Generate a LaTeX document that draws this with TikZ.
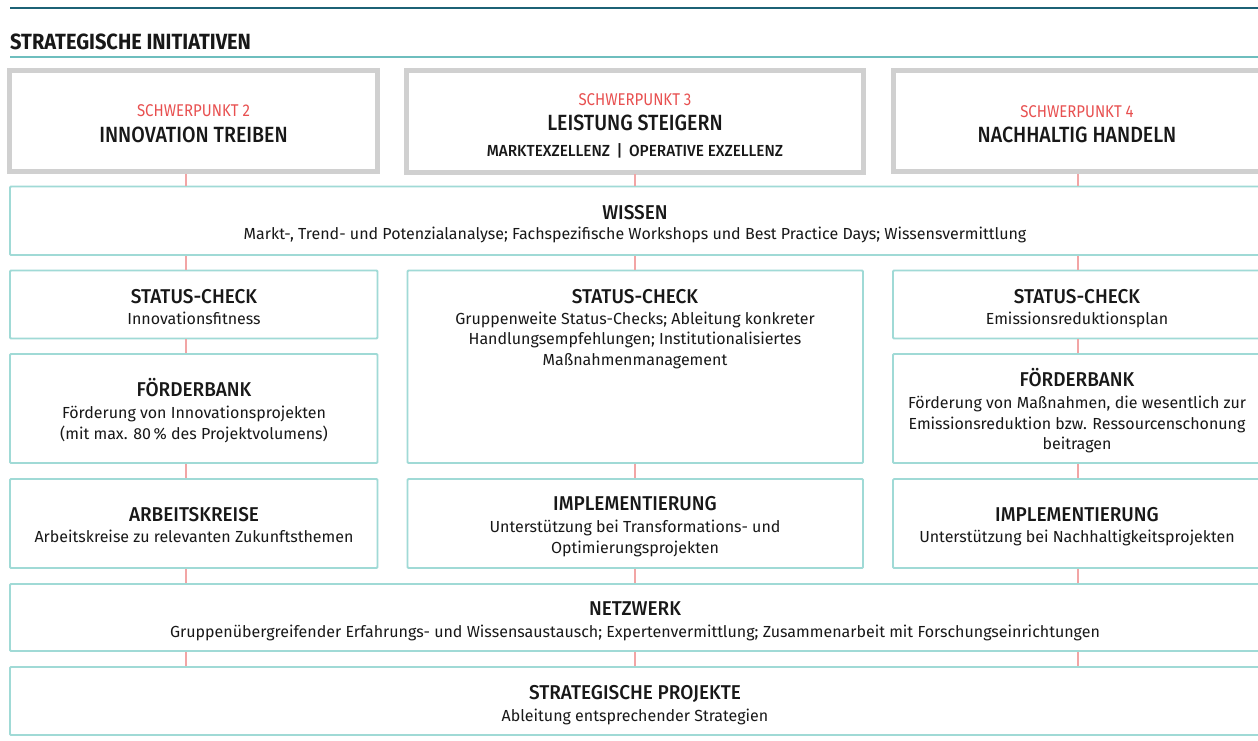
\documentclass[tikz,border=0pt]{standalone}
\usepackage{fontspec}
\setmainfont{Fira Sans}
\newfontfamily\hdfont[FakeStretch=0.95]{Fira Sans Medium}
\newfontfamily\btfont[FakeStretch=0.89]{Fira Sans Medium}
\newfontfamily\subfont[FakeStretch=0.96]{Fira Sans Medium}
\newfontfamily\rdfont[FakeStretch=0.88]{Fira Sans}
\newfontfamily\boldfont[FakeStretch=0.91]{Fira Sans Bold}
\usetikzlibrary{fit}
\definecolor{darkteal}{RGB}{28,98,118}
\definecolor{lineteal}{RGB}{110,190,190}
\definecolor{boxteal}{RGB}{160,218,214}
\definecolor{grayframe}{RGB}{208,208,208}
\definecolor{redtxt}{RGB}{232,80,80}
\definecolor{redline}{RGB}{242,165,165}
\definecolor{txt}{RGB}{24,24,24}
\newcommand\ml[1]{\begin{tabular}[t]{@{}c@{}}#1\end{tabular}}
\begin{document}
\begin{tikzpicture}[x=1pt,y=-1pt,
  tbox/.style={draw=boxteal, line width=1.8pt, rounded corners=1pt, inner sep=0pt},
  gbox/.style={draw=grayframe, line width=5pt, inner sep=0pt},
  conn/.style={draw=redline, line width=1.3pt},
  hd/.style={anchor=base, inner sep=0pt, font=\hdfont\fontsize{20}{24}\selectfont, text=txt},
  bt/.style={anchor=base, inner sep=0pt, font=\btfont\fontsize{22}{26}\selectfont, text=txt},
  rd/.style={anchor=base, inner sep=0pt, font=\rdfont\fontsize{17}{20}\selectfont, text=redtxt},
  bd/.style={anchor=base, inner sep=0pt, font=\fontsize{16}{20.8}\selectfont, text=txt}]
\useasboundingbox (0,0) rectangle (1258,740);
\clip (0,0) rectangle (1258,740);
\fill[white] (0,0) rectangle (1258,740);

% header rules and title
\draw[darkteal, line width=2.2pt] (10,8) -- (1270,8);
\draw[lineteal, line width=1.8pt] (10,57) -- (1270,57);
\node[anchor=base west, inner sep=0pt, font=\boldfont\fontsize{22}{26}\selectfont, text=txt] (title) at (10,49) {STRATEGISCHE INITIATIVEN};

% column axes for connectors
\coordinate (c1) at (186,0);
\coordinate (c2) at (635,0);
\coordinate (c3) at (1078,0);

% top boxes
\node[gbox, fit={(9.5,70.5) (377.5,171.5)}] (g1) {};
\node[gbox, fit={(406.5,70.5) (863.5,172)}] (g2) {};
\node[gbox, fit={(893,70.5) (1268,171.5)}] (g3) {};
\node[rd] (g1a) at (193.5,116) {SCHWERPUNKT 2};
\node[bt] (g1b) at (193.5,142.7) {INNOVATION TREIBEN};
\node[rd] (g2a) at (635,105) {SCHWERPUNKT 3};
\node[bt] (g2b) at (635,130.7) {LEISTUNG STEIGERN};
\node[anchor=base, inner sep=0pt, font=\subfont\fontsize{16}{20}\selectfont, text=txt] (g2c) at (635,156.7) {MARKTEXZELLENZ \,|\, OPERATIVE EXZELLENZ};
\node[rd] (g3a) at (1077,117) {SCHWERPUNKT 4};
\node[bt] (g3b) at (1077,142.7) {NACHHALTIG HANDELN};

% teal boxes
\node[tbox, fit={(10,186.5) (1270,255)}] (wissen) {};
\node[tbox, fit={(10,270.5) (377.5,338.5)}] (sc1) {};
\node[tbox, fit={(407.5,270.5) (863,463)}] (sc2) {};
\node[tbox, fit={(893,270.5) (1270,338.5)}] (sc3) {};
\node[tbox, fit={(10,354) (377.5,463)}] (fb1) {};
\node[tbox, fit={(893,354) (1270,463)}] (fb3) {};
\node[tbox, fit={(10,479) (377.5,568)}] (ak1) {};
\node[tbox, fit={(407.5,479) (863,568)}] (im2) {};
\node[tbox, fit={(893,479) (1270,568)}] (im3) {};
\node[tbox, fit={(10,584) (1270,651)}] (netz) {};
\node[tbox, fit={(10,667) (1270,735)}] (sp) {};

% connectors
\foreach \c in {c1,c2,c3}{
  \draw[conn] (g1.south -| \c) -- (wissen.north -| \c);
  \draw[conn] (wissen.south -| \c) -- (sc1.north -| \c);
  \draw[conn] (ak1.south -| \c) -- (netz.north -| \c);
  \draw[conn] (netz.south -| \c) -- (sp.north -| \c);
}
\draw[conn] (sc1.south -| c1) -- (fb1.north -| c1);
\draw[conn] (fb1.south -| c1) -- (ak1.north -| c1);
\draw[conn] (sc2.south -| c2) -- (im2.north -| c2);
\draw[conn] (sc3.south -| c3) -- (fb3.north -| c3);
\draw[conn] (fb3.south -| c3) -- (im3.north -| c3);

% texts
\node[hd] (wissenh) at (635,219) {WISSEN};
\node[bd] (wissent) at (635,239) {Markt-, Trend- und Potenzialanalyse; Fachspezifische Workshops und Best Practice Days; Wissensvermittlung};

\node[hd] (sc1h) at (194,303.3) {STATUS-CHECK};
\node[bd] (sc1t) at (194,324) {Innovationsfitness};
\node[hd] (fb1h) at (194,396.7) {FÖRDERBANK};
\node[bd] (fb1t) at (194,418.3) {\ml{Förderung von Innovationsprojekten\\(mit max. 80\,\% des Projektvolumens)}};
\node[hd] (ak1h) at (194,521.7) {ARBEITSKREISE};
\node[bd] (ak1t) at (194,542.7) {Arbeitskreise zu relevanten Zukunftsthemen};

\node[hd] (sc2h) at (635,303.3) {STATUS-CHECK};
\node[bd] (sc2t) at (635,324) {\ml{Gruppenweite Status-Checks; Ableitung konkreter\\Handlungsempfehlungen; Institutionalisiertes\\Maßnahmenmanagement}};
\node[hd] (im2h) at (635,510.7) {IMPLEMENTIERUNG};
\node[bd] (im2t) at (635,532.7) {\ml{Unterstützung bei Transformations- und\\Optimierungsprojekten}};

\node[hd] (sc3h) at (1077,303.3) {STATUS-CHECK};
\node[bd] (sc3t) at (1077,324) {Emissionsreduktionsplan};
\node[hd] (fb3h) at (1077,386.7) {FÖRDERBANK};
\node[bd] (fb3t) at (1077,408.3) {\ml{Förderung von Maßnahmen, die wesentlich zur\\Emissionsreduktion bzw. Ressourcenschonung\\beitragen}};
\node[hd] (im3h) at (1077,521.7) {IMPLEMENTIERUNG};
\node[bd] (im3t) at (1077,542.7) {Unterstützung bei Nachhaltigkeitsprojekten};

\node[hd] (netzh) at (635,615) {NETZWERK};
\node[bd] (netzt) at (635,637) {Gruppenübergreifender Erfahrungs- und Wissensaustausch; Expertenvermittlung; Zusammenarbeit mit Forschungseinrichtungen};
\node[hd] (sph) at (635,699) {STRATEGISCHE PROJEKTE};
\node[bd] (spt) at (635,721) {Ableitung entsprechender Strategien};
\end{tikzpicture}
\end{document}
